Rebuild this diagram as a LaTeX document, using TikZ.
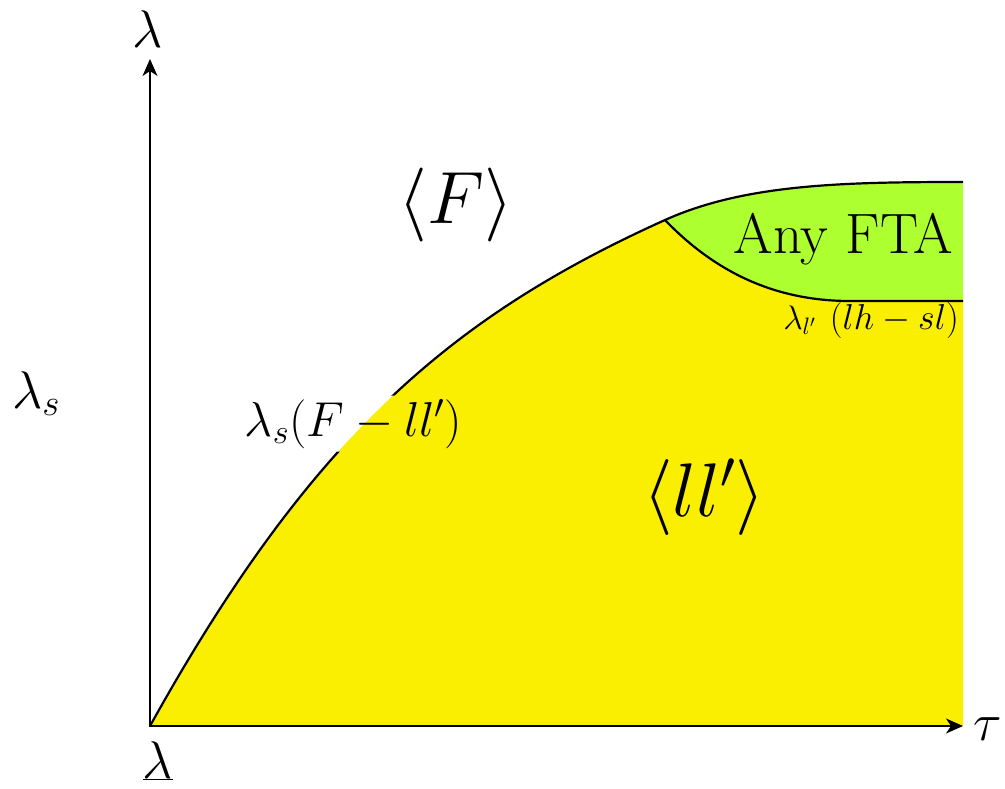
\RequirePackage{fix-cm}
\documentclass[tikz,border=0pt]{standalone}
\usetikzlibrary{arrows.meta}
\definecolor{regionyellow}{RGB}{250,239,0}
\definecolor{regiongreen}{RGB}{173,255,47}
\begin{document}
\begin{tikzpicture}[x=1pt,y=-1pt,
  lbl/.style={inner sep=0pt},
  strokeline/.style={line width=2.2pt,line join=round},
  >={Stealth[length=17pt,width=15pt,inset=5pt]}]
\useasboundingbox (0,0) rectangle (1005,788);
\coordinate (O) at (150,726);
\coordinate (P) at (665,220);
\coordinate (E) at (963,182);
\coordinate (G) at (850,301);
\coordinate (R) at (963,301);
\coordinate (B) at (963,726);
\coordinate (Ytip) at (150,59);
\coordinate (Xtip) at (963,726);
% regions
\fill[regionyellow] (O) .. controls (310,438) and (450,317) .. (P)
  .. controls (715,272) and (775,301) .. (G) -- (R) -- (B) -- cycle;
\fill[regiongreen] (P) .. controls (745,184) and (843,182) .. (E) -- (R) -- (G)
  .. controls (775,301) and (715,272) .. (P) -- cycle;
% curve label (the curve is interrupted under it)
\node[font=\fontsize{49}{56}\selectfont,anchor=base] (lsF) at (353.5,436) {$\lambda_s(F-ll')$};
\begin{scope}
  \clip (0,0) rectangle (1005,788) (lsF.south west) rectangle (lsF.north east);
  \draw[strokeline] (O) .. controls (310,438) and (450,317) .. (P)
    .. controls (745,184) and (843,182) .. (E);
\end{scope}
\draw[strokeline] (P) .. controls (715,272) and (775,301) .. (G) -- (R);
% axes
\draw[line width=2pt,<->] (Ytip) -- (O) -- (Xtip);
% labels
\node[lbl,font=\fontsize{53}{60}\selectfont,anchor=base] (ylab) at (148,47) {$\lambda$};
\node[lbl,font=\fontsize{53}{60}\selectfont,anchor=base] (lamlow) at (158,778) {$\underline{\lambda}$};
\node[lbl,font=\fontsize{53}{60}\selectfont,anchor=base] (tau) at (988,740) {$\tau$};
\node[lbl,font=\fontsize{53}{60}\selectfont,anchor=base west] (ls) at (12,408) {$\lambda_s$};
\node[lbl,font=\fontsize{74}{80}\selectfont,anchor=base] (Flab) at (456,223.5) {$\langle F\rangle$};
\node[lbl,font=\fontsize{76}{80}\selectfont,anchor=base] (lllab) at (704,516) {$\langle ll'\rangle$};
\node[lbl,font=\fontsize{57}{64}\selectfont,anchor=base] (fta) at (843.5,253) {Any FTA};
\node[lbl,font=\fontsize{36}{40}\selectfont,anchor=base east] (lam2) at (959,329)
  {{\fontsize{34}{36}\selectfont$\lambda_{l'}$}\hspace{14pt}$(lh-sl)$};
\end{tikzpicture}
\end{document}
